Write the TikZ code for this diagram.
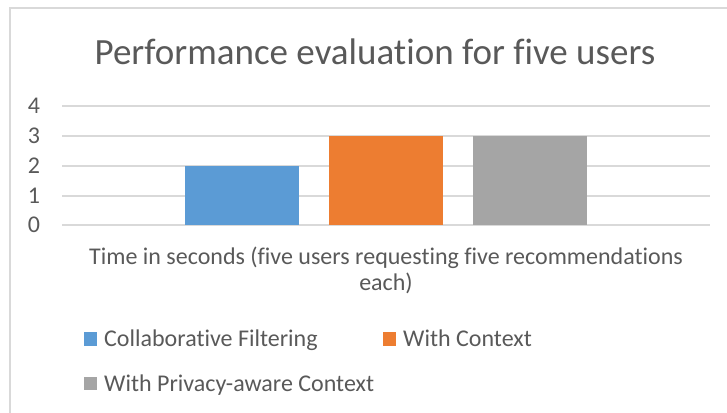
\documentclass[tikz,border=0pt]{standalone}
\usepackage{fontspec}
\setmainfont{Carlito}[Ligatures=NoCommon]
\definecolor{txt}{HTML}{595959}
\definecolor{grid}{HTML}{D9D9D9}
\definecolor{cblue}{HTML}{5B9BD5}
\definecolor{corange}{HTML}{ED7D31}
\definecolor{cgray}{HTML}{A5A5A5}
\begin{document}
\begin{tikzpicture}[x=1pt,y=-1pt,
  lbl/.style={text=txt,font=\fontsize{24}{28}\selectfont,inner sep=0pt},
  gridline/.style={draw=grid,line width=1.5pt},
  bar/.style={draw=none},
  key/.style={minimum size=13.5pt,inner sep=0pt,draw=none}]
\useasboundingbox (0,0) rectangle (727,412);
\draw[draw=grid,line width=1.2pt] (10,430) -- (10,8) -- (740,8);
\node[lbl,font=\fontsize{37}{44}\selectfont,anchor=base] (title) at (375,64) {Performance evaluation for five users};
\foreach \v/\y in {0/225,1/196,2/166,3/136,4/106}{
  \draw[gridline] (62,\y) -- (710,\y);
  \node[lbl] (y\v) at (34,\y) {\v};
}
\fill[cblue] (185,166) rectangle (299,225);
\node[bar] (b1) at (242,195) {};
\fill[corange] (329,136) rectangle (443,225);
\node[bar] (b2) at (386,180) {};
\fill[cgray] (473,136) rectangle (587,225);
\node[bar] (b3) at (530,180) {};
\node[lbl,anchor=base] (xl1) at (386,264) {Time in seconds (five users requesting five recommendations};
\node[lbl,anchor=base] (xl2) at (386,290) {each)};
\node[key,fill=cblue] (k1) at (90.5,339) {};
\node[lbl,anchor=base west] (l1) at (104,346.5) {Collaborative Filtering};
\node[key,fill=corange] (k2) at (389.5,339) {};
\node[lbl,anchor=base west] (l2) at (403,346.5) {With Context};
\node[key,fill=cgray] (k3) at (90.5,383.5) {};
\node[lbl,anchor=base west] (l3) at (104,391) {With Privacy-aware Context};
\end{tikzpicture}
\end{document}
